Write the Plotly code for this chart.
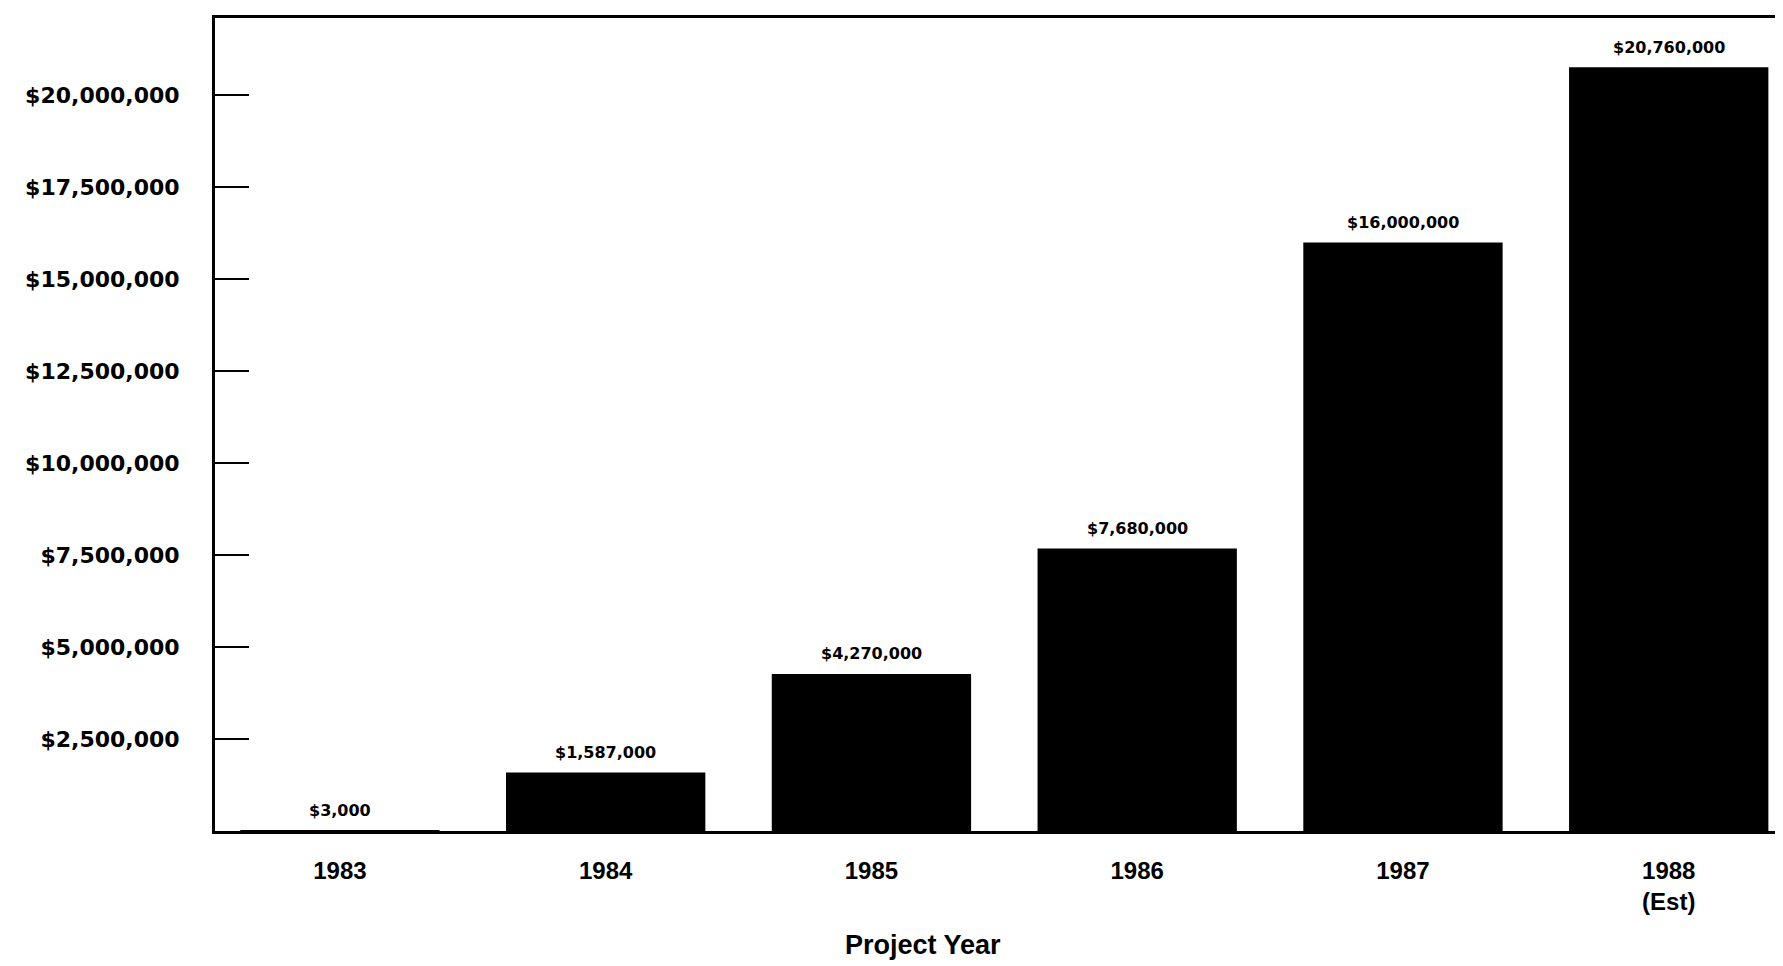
import plotly.graph_objects as go

years = ["1983", "1984", "1985", "1986", "1987", "1988"]
year_labels = ["1983", "1984", "1985", "1986", "1987", "1988<br>(Est)"]
funding = [3000, 1587000, 4270000, 7680000, 16000000, 20760000]
value_labels = ["$3,000", "$1,587,000", "$4,270,000", "$7,680,000", "$16,000,000", "$20,760,000"]
y_tick_vals = [2500000, 5000000, 7500000, 10000000, 12500000, 15000000, 17500000, 20000000]
y_tick_text = ["$2,500,000", "$5,000,000", "$7,500,000", "$10,000,000",
               "$12,500,000", "$15,000,000", "$17,500,000", "$20,000,000"]

# page body has an 8px default margin; compensate so the plot sits where the reference has it
OFF = 8
plot_left, plot_right, plot_top, plot_bottom = 215, 1783, 15, 831

fig = go.Figure()
fig.add_trace(go.Bar(
    x=list(range(len(years))),
    y=funding,
    width=0.75,
    marker=dict(color="black", line=dict(width=0)),
    hoverinfo="skip",
))

for i, (v, lab) in enumerate(zip(funding, value_labels)):
    fig.add_annotation(
        x=i, y=v, text=lab, showarrow=False, yshift=20, yanchor="middle",
        font=dict(family="DejaVu Sans", size=16, color="black", weight="bold"),
    )

fig.add_annotation(
    x=(923 - plot_left) / (plot_right - plot_left),
    y=-(945 - plot_bottom) / (plot_bottom - plot_top),
    xref="paper", yref="paper", text="<b>Project Year</b>",
    showarrow=False, yanchor="middle",
    font=dict(family="Liberation Sans Narrow, Liberation Sans", size=27, color="black"),
)

fig.update_layout(
    width=1783, height=966,
    margin=dict(l=plot_left - OFF, r=1783 + OFF - plot_right, t=plot_top - OFF,
                b=966 + OFF - plot_bottom),
    paper_bgcolor="white", plot_bgcolor="white",
    showlegend=False,
    bargap=0.25,
    xaxis=dict(
        range=[-0.47, 5.43],
        tickmode="array", tickvals=list(range(len(years))), ticktext=year_labels,
        showline=True, linecolor="black", linewidth=3, mirror=True,
        showgrid=False, zeroline=False, ticks="",
        tickfont=dict(family="Liberation Sans Narrow, Liberation Sans", size=24, color="black", weight="bold"),
        ticklabelstandoff=16,
    ),
    yaxis=dict(
        range=[0, 22100000],
        tickmode="array", tickvals=y_tick_vals, ticktext=y_tick_text,
        showline=True, linecolor="black", linewidth=3,
        showgrid=False, zeroline=False,
        ticks="inside", ticklen=34, tickwidth=2, tickcolor="black",
        tickfont=dict(family="DejaVu Sans", size=22, color="black", weight="bold"),
        ticklabelstandoff=28,
    ),
)

fig.write_html("out.html")
